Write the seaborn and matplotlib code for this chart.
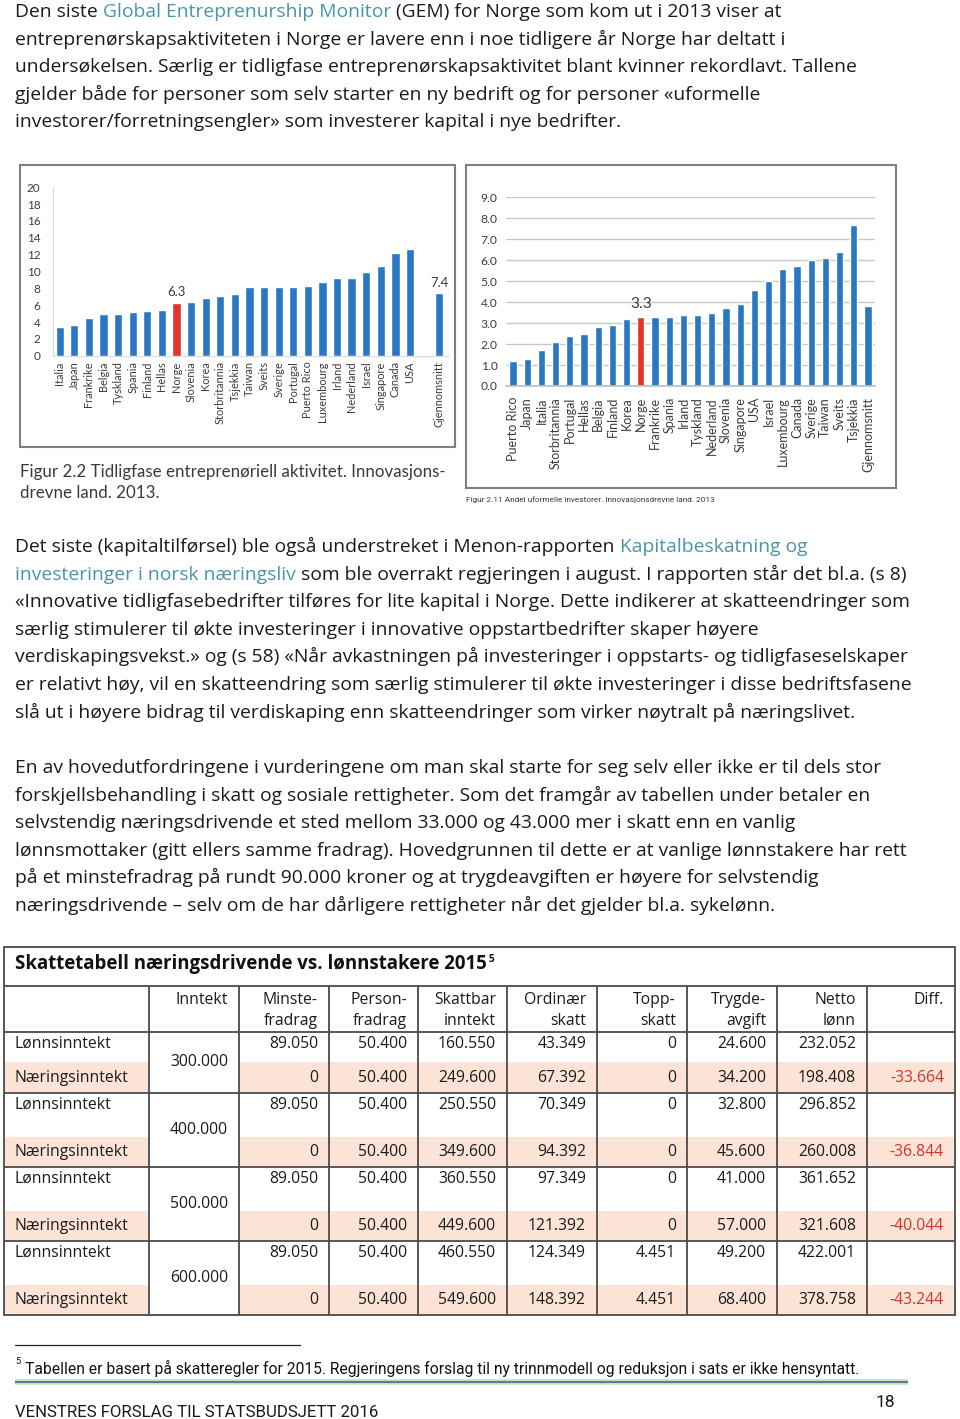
import numpy as np
import pandas as pd
import matplotlib
matplotlib.use("Agg")
import matplotlib.pyplot as plt
import seaborn as sns
from matplotlib import font_manager as fm
from matplotlib.patches import Rectangle

# ---------------- data ----------------
left_countries = ["Italia", "Japan", "Frankrike", "Belgia", "Tyskland", "Spania", "Finland",
                  "Hellas", "Norge", "Slovenia", "Korea", "Storbritannia", "Tsjekkia", "Taiwan",
                  "Sveits", "Sverige", "Portugal", "Puerto Rico", "Luxembourg", "Irland",
                  "Nederland", "Israel", "Singapore", "Canada", "USA", "Gjennomsnitt"]
left_values = [3.4, 3.6, 4.5, 4.9, 4.9, 5.2, 5.3, 5.4, 6.3, 6.4, 6.8, 7.1, 7.3, 8.1,
               8.1, 8.2, 8.2, 8.3, 8.7, 9.2, 9.2, 10.0, 10.7, 12.2, 12.7, 7.4]
left_yticks = list(range(0, 21, 2))

right_countries = ["Puerto Rico", "Japan", "Italia", "Storbritannia", "Portugal", "Hellas",
                   "Belgia", "Finland", "Korea", "Norge", "Frankrike", "Spania", "Irland",
                   "Tyskland", "Nederland", "Slovenia", "Singapore", "USA", "Israel",
                   "Luxembourg", "Canada", "Sverige", "Taiwan", "Sveits", "Tsjekkia",
                   "Gjennomsnitt"]
right_values = [1.2, 1.3, 1.7, 2.1, 2.4, 2.5, 2.8, 2.9, 3.2, 3.3, 3.3, 3.3, 3.4, 3.4, 3.5,
                3.7, 3.9, 4.6, 5.0, 5.6, 5.7, 6.0, 6.1, 6.4, 7.7, 3.8]
right_yticks = [0, 1, 2, 3, 4, 5, 6, 7, 8, 9]

highlight = "Norge"
left_labelled = ["Norge", "Gjennomsnitt"]
right_labelled = ["Norge"]

tab_headers = ["", "Inntekt", "Minste-\nfradrag", "Person-\nfradrag", "Skattbar\ninntekt",
               "Ordinær\nskatt", "Topp-\nskatt", "Trygde-\navgift", "Netto\nlønn", "Diff."]
tab_rowlabels = ["Lønnsinntekt", "Næringsinntekt"]
tab_incomes = ["300.000", "400.000", "500.000", "600.000"]
tab_minste = ["89.050", "0", "89.050", "0", "89.050", "0", "89.050", "0"]
tab_person = ["50.400"] * 8
tab_skattbar = ["160.550", "249.600", "250.550", "349.600", "360.550", "449.600", "460.550", "549.600"]
tab_ordinaer = ["43.349", "67.392", "70.349", "94.392", "97.349", "121.392", "124.349", "148.392"]
tab_topp = ["0", "0", "0", "0", "0", "0", "4.451", "4.451"]
tab_trygd = ["24.600", "34.200", "32.800", "45.600", "41.000", "57.000", "49.200", "68.400"]
tab_netto = ["232.052", "198.408", "296.852", "260.008", "361.652", "321.608", "422.001", "378.758"]
tab_diff = ["", "-33.664", "", "-36.844", "", "-40.044", "", "-43.244"]

# ---------------- style ----------------
sns.set_theme(style="white")
avail = {f.name for f in fm.fontManager.ttflist}
def pick(*names):
    for n in names:
        if n in avail:
            return n
    return "DejaVu Sans"
BODY = pick("Open Sans", "Lato", "Noto Sans")
CHART = pick("Lato", "Open Sans", "Noto Sans")
NARROW = pick("Liberation Sans Narrow", "Roboto", "Lato")
plt.rcParams["font.family"] = [BODY, "DejaVu Sans"]

BLUE = "#2a78c2"
RED = "#e2362c"
LINK = "#4795ad"
TXT = "#1b1b1b"
PEACH = "#fbe4d5"
DIFFRED = "#d2332d"
GRID = "#c8c8c8"
LBL = "#3c3c3c"

W, H = 960, 1419
fig = plt.figure(figsize=(W / 100, H / 100), dpi=100)
fig.patch.set_facecolor("white")
ov = fig.add_axes([0, 0, 1, 1], zorder=0)
ov.set_xlim(0, W)
ov.set_ylim(H, 0)
ov.axis("off")
renderer = fig.canvas.get_renderer()

def tw(s, fs, fam, weight="normal"):
    t = ov.text(0, 0, s, fontsize=fs, family=fam, fontweight=weight)
    w = t.get_window_extent(renderer).width
    t.remove()
    return w

def fit(s, target, fam, weight="normal"):
    return 10 * target / tw(s, 10, fam, weight)

def rich(x, y, segs, fs, fam, weight="normal"):
    spw = tw("n n", fs, fam, weight) - tw("nn", fs, fam, weight)
    for s, c in segs:
        core = s.strip(" ")
        lead = len(s) - len(s.lstrip(" "))
        trail = len(s) - len(s.rstrip(" "))
        x += lead * spw
        if core:
            ov.text(x, y, core, fontsize=fs, family=fam, color=c, va="baseline",
                    ha="left", fontweight=weight)
            x += tw(core, fs, fam, weight)
        x += trail * spw
    return x

# ---------------- body text ----------------
para1 = [
    [("Den siste ", TXT), ("Global Entreprenurship Monitor", LINK), (" (GEM) for Norge som kom ut i 2013 viser at", TXT)],
    [("entreprenørskapsaktiviteten i Norge er lavere enn i noe tidligere år Norge har deltatt i", TXT)],
    [("undersøkelsen. Særlig er tidligfase entreprenørskapsaktivitet blant kvinner rekordlavt. Tallene", TXT)],
    [("gjelder både for personer som selv starter en ny bedrift og for personer «uformelle", TXT)],
    [("investorer/forretningsengler» som investerer kapital i nye bedrifter.", TXT)],
]
para2 = [
    [("Det siste (kapitaltilførsel) ble også understreket i Menon-rapporten ", TXT), ("Kapitalbeskatning og", LINK)],
    [("investeringer i norsk næringsliv", LINK), (" som ble overrakt regjeringen i august. I rapporten står det bl.a. (s 8)", TXT)],
    [("«Innovative tidligfasebedrifter tilføres for lite kapital i Norge. Dette indikerer at skatteendringer som", TXT)],
    [("særlig stimulerer til økte investeringer i innovative oppstartbedrifter skaper høyere", TXT)],
    [("verdiskapingsvekst.» og (s 58) «Når avkastningen på investeringer i oppstarts- og tidligfaseselskaper", TXT)],
    [("er relativt høy, vil en skatteendring som særlig stimulerer til økte investeringer i disse bedriftsfasene", TXT)],
    [("slå ut i høyere bidrag til verdiskaping enn skatteendringer som virker nøytralt på næringslivet.", TXT)],
]
para3 = [
    [("En av hovedutfordringene i vurderingene om man skal starte for seg selv eller ikke er til dels stor", TXT)],
    [("forskjellsbehandling i skatt og sosiale rettigheter. Som det framgår av tabellen under betaler en", TXT)],
    [("selvstendig næringsdrivende et sted mellom 33.000 og 43.000 mer i skatt enn en vanlig", TXT)],
    [("lønnsmottaker (gitt ellers samme fradrag). Hovedgrunnen til dette er at vanlige lønnstakere har rett", TXT)],
    [("på et minstefradrag på rundt 90.000 kroner og at trygdeavgiften er høyere for selvstendig", TXT)],
    [("næringsdrivende – selv om de har dårligere rettigheter når det gjelder bl.a. sykelønn.", TXT)],
]
body_fs = fit(para2[2][0][0], 894, BODY)
for para, y0 in [(para1, 17), (para2, 552), (para3, 773)]:
    for i, segs in enumerate(para):
        rich(15, y0 + i * 27.6, segs, body_fs, BODY)

# ---------------- chart frames ----------------
ov.add_patch(Rectangle((20, 165), 435, 282, fill=False, ec="#7f7f7f", lw=1.5))
ov.add_patch(Rectangle((466, 165), 430, 323, fill=False, ec="#7f7f7f", lw=1.5))

# ---------------- left chart ----------------
dfL = pd.DataFrame({"land": left_countries, "verdi": left_values})
orderL = left_countries[:-1] + [" "] + left_countries[-1:]
palL = {c: (RED if c == highlight else BLUE) for c in left_countries}
axL = fig.add_axes([53 / W, 1 - 355.7 / H, (448 - 53) / W, (355.7 - 187.3) / H])
sns.barplot(data=dfL, x="land", y="verdi", hue="land", palette=palL, order=orderL,
            hue_order=left_countries, dodge=False, legend=False, width=0.57,
            saturation=1, ax=axL)
axL.set_xlim(-0.46, 26.6)
axL.set_ylim(0, 20)
axL.set_yticks(left_yticks)
axL.set_xlabel("")
axL.set_ylabel("")
fsL = fit("Storbritannia", 63, CHART)
axL.set_xticks(range(len(orderL)))
axL.set_xticklabels(orderL, rotation=90, fontsize=fsL, color=LBL, family=CHART)
axL.set_yticklabels([str(v) for v in left_yticks], fontsize=fsL + 0.6, color=LBL, family=CHART)
axL.tick_params(axis="x", length=0, pad=4)
axL.tick_params(axis="y", length=0, pad=9)
for s in ["top", "right"]:
    axL.spines[s].set_visible(False)
for s in ["left", "bottom"]:
    axL.spines[s].set_color("#d9d9d9")
    axL.spines[s].set_linewidth(0.8)
axL.set_facecolor("none")
for c in left_labelled:
    i = orderL.index(c)
    v = left_values[left_countries.index(c)]
    axL.annotate(f"{v:.1f}", (i, v), xytext=(0, 3), textcoords="offset points",
                 ha="center", va="bottom", fontsize=fsL + 1.5, color=LBL, family=CHART)

# ---------------- right chart ----------------
dfR = pd.DataFrame({"land": right_countries, "verdi": right_values})
palR = {c: (RED if c == highlight else BLUE) for c in right_countries}
axR = fig.add_axes([506 / W, 1 - 386 / H, (875 - 506) / W, (386 - 197.3) / H])
axR.set_axisbelow(True)
axR.yaxis.grid(True, color=GRID, lw=1)
sns.barplot(data=dfR, x="land", y="verdi", hue="land", palette=palR, order=right_countries,
            hue_order=right_countries, dodge=False, legend=False, width=0.51,
            saturation=1, ax=axR)
axR.set_xlim(-0.49, 25.4)
axR.set_ylim(0, 9)
axR.set_yticks(right_yticks)
axR.set_xlabel("")
axR.set_ylabel("")
fsR = fit("Storbritannia", 72, CHART)
axR.set_xticks(range(len(right_countries)))
axR.set_xticklabels(right_countries, rotation=90, fontsize=fsR, color=LBL, family=CHART)
axR.set_yticklabels([f"{v:.1f}" for v in right_yticks], fontsize=fsR - 0.3, color=LBL, family=CHART)
axR.set_xticks(np.arange(-0.5, len(right_countries), 1.0), minor=True)
axR.tick_params(axis="x", which="major", length=0, pad=8)
axR.tick_params(axis="x", which="minor", length=4, color="#bfbfbf", width=0.8)
axR.tick_params(axis="y", length=0, pad=6)
for s in ["top", "right", "left"]:
    axR.spines[s].set_visible(False)
axR.spines["bottom"].set_color("#bfbfbf")
axR.set_facecolor("none")
for c in right_labelled:
    i = right_countries.index(c)
    v = right_values[i]
    axR.annotate(f"{v:.1f}", (i, v), xytext=(0, 4), textcoords="offset points",
                 ha="center", va="bottom", fontsize=fsR + 2.2, color=LBL, family=CHART)

# ---------------- captions ----------------
cap_fs = fit("Figur 2.2 Tidligfase entreprenøriell aktivitet. Innovasjons-", 423, CHART)
ov.text(20, 477, "Figur 2.2 Tidligfase entreprenøriell aktivitet. Innovasjons-", fontsize=cap_fs,
        family=CHART, color="#3a3a3a", va="baseline")
ov.text(20, 498, "drevne land. 2013.", fontsize=cap_fs, family=CHART, color="#3a3a3a", va="baseline")
cap2 = "Figur 2.11 Andel uformelle investorer. Innovasjonsdrevne land. 2013"
ov.text(466, 502, cap2, fontsize=fit(cap2, 248, NARROW), family=NARROW, color="#3a3a3a",
        va="baseline")

# ---------------- table ----------------
xs = [4, 149, 239, 329, 418, 507, 597, 687, 777, 867, 955]
y_top, y_title, y_head = 947, 986, 1032
groups = [(1032, 1062, 1092), (1093, 1137, 1166), (1167, 1211, 1240), (1241, 1285, 1314)]
LC = "#4a4a4a"
# shading
for (g0, gm, g1) in groups:
    ov.add_patch(Rectangle((xs[0], gm), xs[1] - xs[0], g1 - gm, color=PEACH, lw=0))
    ov.add_patch(Rectangle((xs[2], gm), xs[-1] - xs[2], g1 - gm, color=PEACH, lw=0))
# lines
ov.add_patch(Rectangle((xs[0], y_top), xs[-1] - xs[0], 1315 - y_top, fill=False, ec=LC, lw=1.3))
for yy in [y_title, y_head] + [g[2] + 0.5 for g in groups[:-1]]:
    ov.plot([xs[0], xs[-1]], [yy, yy], color=LC, lw=1.3, solid_capstyle="butt")
for xx in xs[1:-1]:
    ov.plot([xx, xx], [y_title, 1315], color=LC, lw=1.3, solid_capstyle="butt")

title = "Skattetabell næringsdrivende vs. lønnstakere 2015"
title_fs = fit(title, 472, BODY, "bold")
ov.text(15, 969, title, fontsize=title_fs, family=BODY, fontweight="bold", color="#111111",
        va="baseline")
ov.text(15 + tw(title, title_fs, BODY, "bold") + 2, 962, "5", fontsize=title_fs * 0.55,
        family=BODY, fontweight="bold", color="#111111", va="baseline")

cell_fs = fit("Næringsinntekt", 114, BODY)
pad = 11
for j, h in enumerate(tab_headers):
    if not h:
        continue
    lines = h.split("\n")
    for k, ln in enumerate(lines):
        ov.text(xs[j + 1] - pad, 1004 + k * 21, ln, fontsize=cell_fs, family=BODY, color=TXT,
                ha="right", va="baseline")

cols = [tab_minste, tab_person, tab_skattbar, tab_ordinaer, tab_topp, tab_trygd, tab_netto, tab_diff]
for gi, (g0, gm, g1) in enumerate(groups):
    ylon = g0 + 16
    ynar = (gm + g1) / 2 + 5
    for r, yb in enumerate([ylon, ynar]):
        idx = gi * 2 + r
        ov.text(15, yb, tab_rowlabels[r], fontsize=cell_fs, family=BODY, color=TXT, va="baseline")
        for ci, col in enumerate(cols):
            val = col[idx]
            if not val:
                continue
            color = DIFFRED if col is tab_diff else TXT
            ov.text(xs[ci + 3] - pad, yb, val, fontsize=cell_fs, family=BODY, color=color,
                    ha="right", va="baseline")
    ov.text(xs[2] - pad, (g0 + g1) / 2 + 4, tab_incomes[gi], fontsize=cell_fs, family=BODY,
            color=TXT, ha="right", va="baseline")

# ---------------- footnote & footer ----------------
ov.plot([15, 300], [1345, 1345], color="#222222", lw=0.9)
foot = "Tabellen er basert på skatteregler for 2015. Regjeringens forslag til ny trinnmodell og reduksjon i sats er ikke hensyntatt."
foot_fs = fit(foot, 835, NARROW)
ov.text(15, 1364, "5", fontsize=foot_fs * 0.6, family=NARROW, color="#111111", va="baseline")
ov.text(25, 1374, foot, fontsize=foot_fs, family=NARROW, color="#111111", va="baseline")
ov.plot([15, 908], [1382, 1382], color="#c6e0b4", lw=4.0, solid_capstyle="butt")
ov.plot([15, 908], [1382, 1382], color="#58789e", lw=1.4, solid_capstyle="butt")
footer = "VENSTRES FORSLAG TIL STATSBUDSJETT 2016"
ov.text(15, 1417, footer, fontsize=fit(footer, 362, NARROW), family=NARROW, color="#1a1a1a",
        va="baseline")
ov.text(895, 1407, "18", fontsize=12.5, family=NARROW, color="#1a1a1a", ha="right", va="baseline")

fig.savefig("out.png", dpi=100)
